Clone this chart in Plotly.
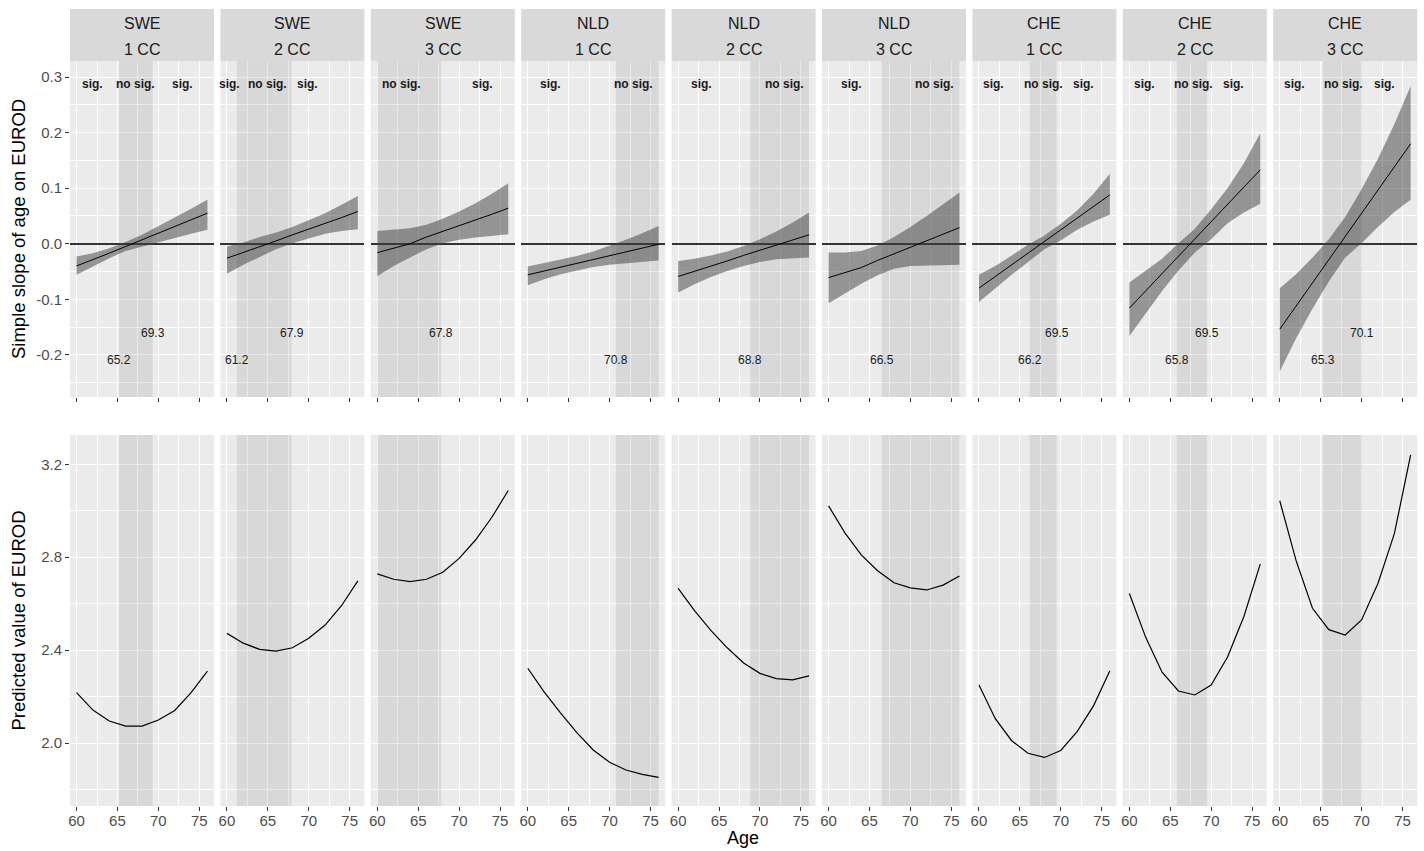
import plotly.graph_objects as go

W, H = 1424, 851

countries = ["SWE", "SWE", "SWE", "NLD", "NLD", "NLD", "CHE", "CHE", "CHE"]
conditions = ["1 CC", "2 CC", "3 CC", "1 CC", "2 CC", "3 CC", "1 CC", "2 CC", "3 CC"]

ages = [60, 62, 64, 66, 68, 70, 72, 74, 76]

# simple slope estimates
slope_est = [
    [-0.040, -0.029, -0.017, -0.005, 0.007, 0.019, 0.031, 0.043, 0.055],
    [-0.026, -0.016, -0.005, 0.005, 0.016, 0.026, 0.037, 0.047, 0.058],
    [-0.016, -0.008, 0.000, 0.012, 0.022, 0.032, 0.042, 0.053, 0.064],
    [-0.056, -0.049, -0.042, -0.035, -0.028, -0.021, -0.014, -0.007, -0.001],
    [-0.059, -0.050, -0.040, -0.031, -0.021, -0.012, -0.003, 0.007, 0.016],
    [-0.061, -0.052, -0.043, -0.030, -0.018, -0.006, 0.006, 0.017, 0.029],
    [-0.080, -0.059, -0.038, -0.017, 0.004, 0.025, 0.046, 0.067, 0.088],
    [-0.116, -0.085, -0.054, -0.023, 0.009, 0.040, 0.071, 0.102, 0.133],
    [-0.154, -0.112, -0.070, -0.028, 0.014, 0.056, 0.097, 0.138, 0.180],
]
slope_lo = [
    [-0.056, -0.041, -0.026, -0.013, -0.005, 0.003, 0.011, 0.018, 0.025],
    [-0.054, -0.038, -0.024, -0.010, 0.001, 0.010, 0.018, 0.023, 0.026],
    [-0.058, -0.040, -0.025, -0.010, 0.001, 0.007, 0.011, 0.014, 0.017],
    [-0.075, -0.064, -0.055, -0.048, -0.042, -0.038, -0.035, -0.032, -0.030],
    [-0.088, -0.073, -0.060, -0.049, -0.040, -0.033, -0.028, -0.026, -0.025],
    [-0.107, -0.089, -0.072, -0.057, -0.045, -0.040, -0.039, -0.038, -0.038],
    [-0.105, -0.080, -0.056, -0.033, -0.010, 0.006, 0.025, 0.040, 0.052],
    [-0.166, -0.126, -0.085, -0.048, -0.016, 0.008, 0.037, 0.056, 0.072],
    [-0.230, -0.170, -0.117, -0.068, -0.025, 0.001, 0.030, 0.057, 0.079],
]
slope_hi = [
    [-0.023, -0.017, -0.008, 0.003, 0.016, 0.031, 0.047, 0.063, 0.079],
    [-0.005, 0.002, 0.012, 0.020, 0.030, 0.042, 0.055, 0.070, 0.086],
    [0.023, 0.025, 0.028, 0.034, 0.045, 0.058, 0.073, 0.090, 0.109],
    [-0.041, -0.035, -0.029, -0.022, -0.014, -0.004, 0.007, 0.019, 0.032],
    [-0.031, -0.027, -0.021, -0.014, -0.004, 0.008, 0.022, 0.038, 0.056],
    [-0.016, -0.016, -0.013, -0.003, 0.012, 0.030, 0.050, 0.071, 0.092],
    [-0.056, -0.040, -0.021, -0.002, 0.015, 0.036, 0.060, 0.090, 0.126],
    [-0.070, -0.048, -0.027, 0.001, 0.027, 0.062, 0.100, 0.145, 0.199],
    [-0.080, -0.055, -0.025, 0.008, 0.048, 0.098, 0.153, 0.215, 0.284],
]

# predicted EUROD
pred_eurod = [
    [2.217, 2.142, 2.095, 2.073, 2.073, 2.099, 2.140, 2.217, 2.310],
    [2.472, 2.430, 2.403, 2.396, 2.410, 2.451, 2.508, 2.591, 2.698],
    [2.728, 2.705, 2.695, 2.705, 2.735, 2.795, 2.874, 2.972, 3.087],
    [2.322, 2.220, 2.130, 2.045, 1.970, 1.917, 1.884, 1.865, 1.852],
    [2.666, 2.570, 2.485, 2.410, 2.345, 2.300, 2.277, 2.272, 2.289],
    [3.021, 2.905, 2.810, 2.742, 2.690, 2.668, 2.659, 2.680, 2.719],
    [2.250, 2.105, 2.010, 1.956, 1.938, 1.968, 2.049, 2.160, 2.311],
    [2.644, 2.455, 2.305, 2.224, 2.207, 2.250, 2.370, 2.545, 2.770],
    [3.043, 2.785, 2.580, 2.488, 2.465, 2.530, 2.687, 2.900, 3.240],
]

# Johnson-Neyman bounds (None = no bound inside the age range)
jn_low = [65.2, 61.2, None, 70.8, 68.8, 66.5, 66.2, 65.8, 65.3]
jn_high = [69.3, 67.9, 67.8, None, None, None, 69.5, 69.5, 70.1]

# significance region labels
region_texts = [
    ["sig.", "no sig.", "sig."],
    ["sig.", "no sig.", "sig."],
    ["no sig.", "sig."],
    ["sig.", "no sig."],
    ["sig.", "no sig."],
    ["sig.", "no sig."],
    ["sig.", "no sig.", "sig."],
    ["sig.", "no sig.", "sig."],
    ["sig.", "no sig.", "sig."],
]
region_x = [
    [62.0, 67.2, 72.9],
    [60.3, 64.9, 69.9],
    [62.95, 72.9],
    [62.8, 72.9],
    [62.8, 73.0],
    [62.8, 73.0],
    [61.8, 67.85, 72.8],
    [61.8, 67.85, 72.7],
    [61.8, 67.8, 72.8],
]

age_ticks = [60, 65, 70, 75]

# ---------------- layout geometry (pixels) ----------------
PANEL_L0 = 70.0
PITCH = 150.4
PW = 144.0
STRIP_T, STRIP_B = 9.0, 61.0
TOP_T, TOP_B = 61.0, 397.0
BOT_T, BOT_B = 435.0, 806.0

XR = [59.2, 76.8]
YR_TOP = [-0.276, 0.329]
YR_BOT = [1.729, 3.326]

BG = "#EBEBEB"
STRIP_BG = "#D9D9D9"
SHADE = "rgba(127,127,127,0.17)"
RIBBON = "rgba(51,51,51,0.47)"
FONT = "Liberation Sans, Arial, sans-serif"
TICKCOL = "#4D4D4D"


def px(x):
    return x / W


def py(y):
    return 1 - y / H


def sfx(k):
    return "" if k == 1 else str(k)


fig = go.Figure()
layout = dict(
    width=W, height=H, margin=dict(l=0, r=0, t=0, b=0, autoexpand=False),
    paper_bgcolor="white", plot_bgcolor=BG, showlegend=False,
    font=dict(family=FONT, color="#1A1A1A"),
)
shapes = []
annotations = []

for i in range(9):
    left = PANEL_L0 + PITCH * i
    right = left + PW
    kt = i + 1
    kb = i + 10
    xt, yt = "x" + sfx(kt), "y" + sfx(kt)
    xb, yb = "x" + sfx(kb), "y" + sfx(kb)
    for k, (t, b), yr, is_top in [(kt, (TOP_T, TOP_B), YR_TOP, True), (kb, (BOT_T, BOT_B), YR_BOT, False)]:
        xs, ys = "x" + sfx(k), "y" + sfx(k)
        xa = dict(
            domain=[px(left), px(right)], range=XR, anchor=ys, automargin=False,
            tickmode="array", tickvals=age_ticks, ticktext=[str(a) for a in age_ticks],
            showgrid=True, gridcolor="white", gridwidth=1.1,
            minor=dict(tickmode="array", tickvals=[62.5, 67.5, 72.5], showgrid=True,
                       gridcolor="white", gridwidth=0.55, ticks=""),
            zeroline=False, showline=False,
            ticks="outside", ticklen=4, tickcolor="#333333", tickwidth=1,
            showticklabels=not is_top, ticklabelstandoff=-3,
            tickfont=dict(size=15, color=TICKCOL, family=FONT),
        )
        if is_top:
            ya_ticks = [-0.2, -0.1, 0.0, 0.1, 0.2, 0.3]
            ya_text = ["-0.2", "-0.1", "0.0", "0.1", "0.2", "0.3"]
            minor_vals = [-0.25, -0.15, -0.05, 0.05, 0.15, 0.25]
        else:
            ya_ticks = [2.0, 2.4, 2.8, 3.2]
            ya_text = ["2.0", "2.4", "2.8", "3.2"]
            minor_vals = [1.8, 2.2, 2.6, 3.0]
        ya = dict(
            domain=[py(b), py(t)], range=yr, anchor=xs, automargin=False,
            tickmode="array", tickvals=ya_ticks, ticktext=ya_text,
            showgrid=True, gridcolor="white", gridwidth=1.1,
            minor=dict(tickmode="array", tickvals=minor_vals, showgrid=True,
                       gridcolor="white", gridwidth=0.55, ticks=""),
            zeroline=is_top, zerolinecolor="#333333", zerolinewidth=1.5,
            showline=False,
            ticks="outside" if i == 0 else "", ticklen=4, tickcolor="#333333", tickwidth=1,
            showticklabels=(i == 0),
            tickfont=dict(size=15, color=TICKCOL, family=FONT),
        )
        layout["xaxis" + sfx(k)] = xa
        layout["yaxis" + sfx(k)] = ya

        # shaded non-significance region (drawn above grid, below other marks)
        x0 = jn_low[i] if jn_low[i] is not None else ages[0]
        x1 = jn_high[i] if jn_high[i] is not None else ages[-1]
        fig.add_trace(go.Scatter(x=[x0, x1, x1, x0, x0], y=[yr[0], yr[0], yr[1], yr[1], yr[0]],
                                 xaxis=xs, yaxis=ys, mode="lines", line=dict(width=0),
                                 fill="toself", fillcolor=SHADE, hoverinfo="skip"))

    # strip
    shapes.append(dict(type="rect", xref="paper", yref="paper",
                       x0=px(left), x1=px(right), y0=py(STRIP_B), y1=py(STRIP_T),
                       fillcolor=STRIP_BG, line=dict(width=0), layer="below"))
    annotations.append(dict(xref="paper", yref="paper", x=px((left + right) / 2), y=py(23.5),
                            text=countries[i], showarrow=False, xanchor="center", yanchor="middle",
                            font=dict(size=16, color="#1A1A1A", family=FONT)))
    annotations.append(dict(xref="paper", yref="paper", x=px((left + right) / 2), y=py(49.5),
                            text=conditions[i], showarrow=False, xanchor="center", yanchor="middle",
                            font=dict(size=16, color="#1A1A1A", family=FONT)))

    # ribbon + slope line
    fig.add_trace(go.Scatter(x=ages, y=slope_lo[i], xaxis=xt, yaxis=yt,
                             mode="lines", line=dict(width=0), hoverinfo="skip"))
    fig.add_trace(go.Scatter(x=ages, y=slope_hi[i], xaxis=xt, yaxis=yt,
                             mode="lines", line=dict(width=0), fill="tonexty",
                             fillcolor=RIBBON, hoverinfo="skip"))
    fig.add_trace(go.Scatter(x=ages, y=slope_est[i], xaxis=xt, yaxis=yt,
                             mode="lines", line=dict(color="black", width=1)))
    # predicted line
    fig.add_trace(go.Scatter(x=ages, y=pred_eurod[i], xaxis=xb, yaxis=yb,
                             mode="lines", line=dict(color="black", width=1.2)))

    # region labels
    for txt, xv in zip(region_texts[i], region_x[i]):
        annotations.append(dict(xref=xt, yref=yt, x=xv, y=0.288, text=f"<b>{txt}</b>",
                                showarrow=False, xanchor="center", yanchor="middle",
                                font=dict(size=12, color="#1A1A1A", family=FONT)))
    # bound value labels
    if jn_low[i] is not None:
        annotations.append(dict(xref=xt, yref=yt, x=jn_low[i], y=-0.21,
                                text=f"{jn_low[i]:.1f}", showarrow=False,
                                xanchor="center", yanchor="middle",
                                font=dict(size=12, color="#1A1A1A", family=FONT)))
    if jn_high[i] is not None:
        annotations.append(dict(xref=xt, yref=yt, x=jn_high[i], y=-0.16,
                                text=f"{jn_high[i]:.1f}", showarrow=False,
                                xanchor="center", yanchor="middle",
                                font=dict(size=12, color="#1A1A1A", family=FONT)))

# axis titles
annotations.append(dict(xref="paper", yref="paper", x=px(18), y=py((TOP_T + TOP_B) / 2),
                        text="Simple slope of age on EUROD", textangle=-90, showarrow=False,
                        xanchor="center", yanchor="middle",
                        font=dict(size=18.5, color="black", family=FONT)))
annotations.append(dict(xref="paper", yref="paper", x=px(18), y=py((BOT_T + BOT_B) / 2),
                        text="Predicted value of EUROD", textangle=-90, showarrow=False,
                        xanchor="center", yanchor="middle",
                        font=dict(size=18.5, color="black", family=FONT)))
annotations.append(dict(xref="paper", yref="paper", x=px(743), y=py(849),
                        text="Age", showarrow=False, xanchor="center", yanchor="bottom",
                        borderpad=0,
                        font=dict(size=18, color="black", family=FONT)))

layout["shapes"] = shapes
layout["annotations"] = annotations
fig.update_layout(**layout)
fig.write_html("out.html", config={"responsive": False, "displayModeBar": False},
               post_script="document.body.style.margin='0px';document.body.style.overflow='hidden';")
